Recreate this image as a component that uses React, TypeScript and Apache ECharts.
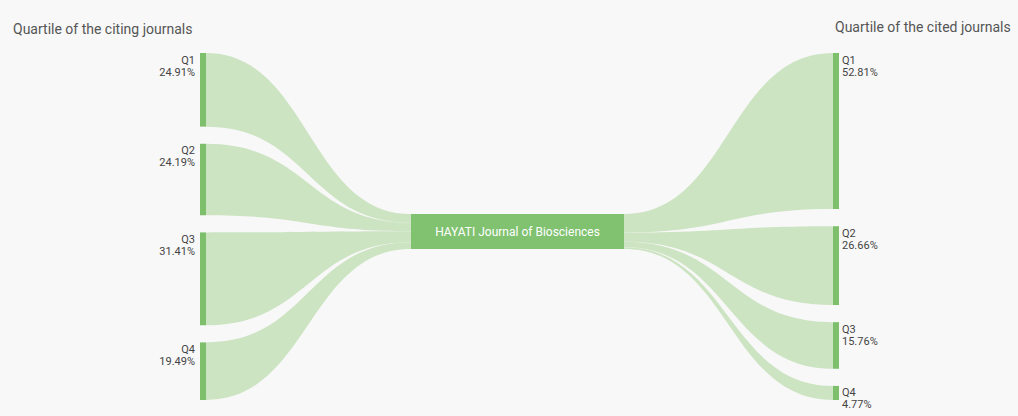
import React, { useEffect, useRef } from "react";
import * as echarts from "echarts";

// ---- data ----
const citingQuartiles = ["Q1", "Q2", "Q3", "Q4"];
const citingShares = [24.91, 24.19, 31.41, 19.49];
const citedQuartiles = ["Q1", "Q2", "Q3", "Q4"];
const citedShares = [52.81, 26.66, 15.76, 4.77];
const journalName = "HAYATI Journal of Biosciences";
const columnTitles = ["Quartile of the citing journals", "Quartile of the cited journals"];

// ---- layout (positions / styles) ----
const W = 1018;
const H = 416;
const LEFT_X = 200;
const RIGHT_X = 833;
const NODE_W = 6;
const CENTER_X0 = 411;
const CENTER_X1 = 624;
const GAP = 5.8;
const CENTER_TOP = 54.5;
const CENTER_H = 11.8;
const TOTAL = 100 + 3 * GAP;
const NODE_COLOR = "#7dbf6b";
const LINK_COLOR = "#cde4c3";
const CENTER_COLOR = "#80c270";
const FONT = "Roboto, 'Noto Sans', sans-serif";

function stack(values: number[]) {
  let y = 0;
  return values.map((v, i) => {
    const y0 = y + i * GAP;
    y += v;
    return [y0, y0 + v];
  });
}

function centerStack(values: number[]) {
  const sum = values.reduce((a, b) => a + b, 0);
  let c = 0;
  return values.map((v) => {
    const a = CENTER_TOP + (c / sum) * CENTER_H;
    c += v;
    const b = CENTER_TOP + (c / sum) * CENTER_H;
    return [a, b];
  });
}

export default function App() {
  const ref = useRef<HTMLDivElement>(null);

  useEffect(() => {
    if (!ref.current) return;
    const chart = echarts.init(ref.current, undefined, { renderer: "svg" });

    const leftPos = stack(citingShares);
    const rightPos = stack(citedShares);
    const leftCenter = centerStack(citingShares);
    const rightCenter = centerStack(citedShares);

    const links: any[] = [];
    leftPos.forEach((p, i) => {
      links.push({ value: [LEFT_X + NODE_W, p[0], p[1], CENTER_X0, leftCenter[i][0], leftCenter[i][1]] });
    });
    rightPos.forEach((p, i) => {
      links.push({ value: [CENTER_X1, rightCenter[i][0], rightCenter[i][1], RIGHT_X, p[0], p[1]] });
    });

    const nodes: any[] = [];
    leftPos.forEach((p, i) => {
      nodes.push({ value: [LEFT_X, p[0], p[1], 0], label: citingQuartiles[i] + "\n" + citingShares[i].toFixed(2) + "%" });
    });
    rightPos.forEach((p, i) => {
      nodes.push({ value: [RIGHT_X, p[0], p[1], 1], label: citedQuartiles[i] + "\n" + citedShares[i].toFixed(2) + "%" });
    });

    const option: any = {
      animation: false,
      backgroundColor: "#f8f8f8",
      grid: { left: 0, right: 0, top: 53, bottom: 16 },
      xAxis: { type: "value", min: 0, max: W, show: false },
      yAxis: { type: "value", min: 0, max: TOTAL, inverse: true, show: false },
      graphic: [
        {
          type: "text",
          left: 13,
          top: 22,
          style: { text: columnTitles[0], fontSize: 14, fill: "#555", fontFamily: FONT },
        },
        {
          type: "text",
          left: 835,
          top: 20,
          style: { text: columnTitles[1], fontSize: 14, fill: "#555", fontFamily: FONT },
        },
      ],
      series: [
        {
          type: "custom",
          coordinateSystem: "cartesian2d",
          silent: true,
          data: links,
          clip: false,
          renderItem: (params: any, api: any) => {
            const x0 = api.value(0), a0 = api.value(1), b0 = api.value(2);
            const x1 = api.value(3), a1 = api.value(4), b1 = api.value(5);
            const pa0 = api.coord([x0, a0]);
            const pb0 = api.coord([x0, b0]);
            const pa1 = api.coord([x1, a1]);
            const pb1 = api.coord([x1, b1]);
            const mx = (pa0[0] + pa1[0]) / 2;
            const d =
              `M${pa0[0]},${pa0[1]} C${mx},${pa0[1]} ${mx},${pa1[1]} ${pa1[0]},${pa1[1]} ` +
              `L${pb1[0]},${pb1[1]} C${mx},${pb1[1]} ${mx},${pb0[1]} ${pb0[0]},${pb0[1]} Z`;
            return {
              type: "path",
              shape: { pathData: d },
              style: { fill: LINK_COLOR, stroke: null },
            };
          },
        },
        {
          type: "custom",
          coordinateSystem: "cartesian2d",
          silent: true,
          data: nodes,
          clip: false,
          renderItem: (params: any, api: any) => {
            const x = api.value(0), y0 = api.value(1), y1 = api.value(2), side = api.value(3);
            const p0 = api.coord([x, y0]);
            const p1 = api.coord([x + NODE_W, y1]);
            const label = nodes[params.dataIndex].label;
            return {
              type: "group",
              children: [
                {
                  type: "rect",
                  shape: { x: p0[0], y: p0[1], width: p1[0] - p0[0], height: p1[1] - p0[1] },
                  style: { fill: NODE_COLOR },
                },
                {
                  type: "text",
                  x: side === 0 ? p0[0] - 5 : p1[0] + 3,
                  y: p0[1] + 1,
                  style: {
                    text: label,
                    fontSize: 11,
                    lineHeight: 12,
                    fill: "#444",
                    fontFamily: FONT,
                    align: side === 0 ? "right" : "left",
                    verticalAlign: "top",
                  },
                },
              ],
            };
          },
        },
        {
          type: "custom",
          coordinateSystem: "cartesian2d",
          silent: true,
          data: [{ value: [CENTER_X0, CENTER_TOP, CENTER_X1, CENTER_TOP + CENTER_H] }],
          clip: false,
          renderItem: (params: any, api: any) => {
            const p0 = api.coord([api.value(0), api.value(1)]);
            const p1 = api.coord([api.value(2), api.value(3)]);
            return {
              type: "group",
              children: [
                {
                  type: "rect",
                  shape: { x: p0[0], y: p0[1], width: p1[0] - p0[0], height: p1[1] - p0[1] },
                  style: { fill: CENTER_COLOR },
                },
                {
                  type: "text",
                  x: (p0[0] + p1[0]) / 2,
                  y: (p0[1] + p1[1]) / 2,
                  style: {
                    text: journalName,
                    fontSize: 12,
                    fill: "#fff",
                    fontFamily: FONT,
                    align: "center",
                    verticalAlign: "middle",
                  },
                },
              ],
            };
          },
        },
      ],
    };

    chart.setOption(option);
    return () => chart.dispose();
  }, []);

  return (
    <div
      ref={ref}
      style={{ position: "absolute", left: 0, top: 0, width: W, height: H }}
    />
  );
}
